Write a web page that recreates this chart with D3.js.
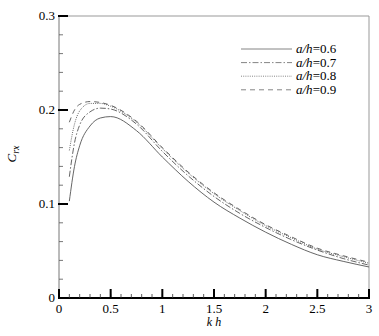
<!DOCTYPE html>
<html lang="en">
<head>
    <title>Crx vs kh</title>
    <script src='https://d3js.org/d3.v7.min.js'></script>
    <style>
        body { margin: 0; background: #fff; }
        svg text { font-family: 'Liberation Serif'; }
    </style>
</head>
<body>
    <script>
        var width = 379, height = 336;

        // data
        var kh = [0.1, 0.15, 0.2, 0.3, 0.4, 0.5, 0.75, 1.0, 1.25, 1.5, 1.75, 2.0, 2.25, 2.5, 2.75, 3.0];
        var crx06 = [0.103, 0.140, 0.162, 0.183, 0.1915, 0.193, 0.178, 0.150, 0.124, 0.102, 0.085, 0.070, 0.057, 0.046, 0.039, 0.033];
        var crx07 = [0.129, 0.165, 0.184, 0.198, 0.202, 0.201, 0.185, 0.156, 0.130, 0.108, 0.090, 0.075, 0.062, 0.051, 0.042, 0.035];
        var crx08 = [0.157, 0.185, 0.199, 0.207, 0.207, 0.204, 0.187, 0.159, 0.133, 0.111, 0.093, 0.077, 0.064, 0.052, 0.044, 0.037];
        var crx09 = [0.187, 0.200, 0.206, 0.209, 0.208, 0.205, 0.188, 0.160, 0.134, 0.112, 0.094, 0.078, 0.065, 0.053, 0.045, 0.038];
        var labels = ['0.6', '0.7', '0.8', '0.9'];
        var dashes = ['none', '6,2,1.5,2', '1,1.2', '5,4'];
        var xTicks = [0, 0.5, 1, 1.5, 2, 2.5, 3];
        var yTicks = [0, 0.1, 0.2, 0.3];

        var series = [crx06, crx07, crx08, crx09];

        var svg = d3.select('body').append('svg')
            .attr('width', width).attr('height', height);

        var x = d3.scaleLinear().domain([0, 3]).range([59, 369]);
        var y = d3.scaleLinear().domain([0, 0.3]).range([298, 16]);

        // frame: top & right in gray
        svg.append('line').attr('x1', x(0)).attr('x2', x(3)).attr('y1', y(0.3)).attr('y2', y(0.3))
            .attr('stroke', '#999').attr('stroke-width', 1);
        svg.append('line').attr('x1', x(3)).attr('x2', x(3)).attr('y1', y(0)).attr('y2', y(0.3))
            .attr('stroke', '#999').attr('stroke-width', 1);

        // left axis
        svg.append('line').attr('x1', x(0)).attr('x2', x(0)).attr('y1', y(0)).attr('y2', y(0.3))
            .attr('stroke', '#777').attr('stroke-width', 1);
        svg.selectAll('.ymin').data(d3.range(0, 0.3001, 0.02)).join('line')
            .attr('x1', x(0)).attr('x2', x(0) + 4)
            .attr('y1', function(d) { return y(d); }).attr('y2', function(d) { return y(d); })
            .attr('stroke', '#555').attr('stroke-width', 0.8);
        svg.selectAll('.ymaj').data(yTicks).join('line')
            .attr('x1', x(0) - 1).attr('x2', x(0) + 9)
            .attr('y1', function(d) { return y(d); }).attr('y2', function(d) { return y(d); })
            .attr('stroke', '#000').attr('stroke-width', 2);
        svg.selectAll('.ylab').data(yTicks).join('text')
            .attr('x', x(0) - 4).attr('y', function(d) { return y(d) + 4; })
            .attr('text-anchor', 'end').attr('font-size', 13)
            .text(function(d) { return d === 0 ? '0' : d3.format('.1f')(d); });

        // bottom axis
        svg.append('line').attr('x1', x(0) - 1).attr('x2', x(3) + 1).attr('y1', y(0)).attr('y2', y(0))
            .attr('stroke', '#000').attr('stroke-width', 2);
        svg.selectAll('.xmin').data(d3.range(0, 3.001, 0.1)).join('line')
            .attr('x1', function(d) { return x(d); }).attr('x2', function(d) { return x(d); })
            .attr('y1', y(0)).attr('y2', y(0) - 4)
            .attr('stroke', '#333').attr('stroke-width', 0.8);
        svg.selectAll('.xmaj').data(xTicks).join('line')
            .attr('x1', function(d) { return x(d); }).attr('x2', function(d) { return x(d); })
            .attr('y1', y(0)).attr('y2', y(0) - 9)
            .attr('stroke', '#000').attr('stroke-width', 2);
        svg.selectAll('.xlab').data(xTicks).join('text')
            .attr('x', function(d) { return x(d); }).attr('y', 313)
            .attr('text-anchor', 'middle').attr('font-size', 13)
            .text(function(d) { return d; });

        // axis titles
        svg.append('text').attr('x', x(1.5)).attr('y', 326)
            .attr('text-anchor', 'middle').attr('font-size', 12).attr('font-style', 'italic')
            .text('k h');
        var yt = svg.append('text').attr('transform', 'translate(16,154) rotate(-90)')
            .attr('text-anchor', 'middle').attr('font-size', 13).attr('font-style', 'italic');
        yt.append('tspan').text('C');
        yt.append('tspan').attr('font-size', 10).attr('dy', 3).text('rx');

        // curves
        var line = d3.line()
            .x(function(d) { return x(d[0]); })
            .y(function(d) { return y(d[1]); })
            .curve(d3.curveMonotoneX);

        series.forEach(function(s, i) {
            svg.append('path')
                .attr('d', line(kh.map(function(k, j) { return [k, s[j]]; })))
                .attr('fill', 'none')
                .attr('stroke', '#555')
                .attr('stroke-width', 0.9)
                .attr('stroke-dasharray', dashes[i]);
        });

        // legend
        labels.forEach(function(l, i) {
            var ly = 49 + i * 13.6;
            svg.append('line').attr('x1', 241).attr('x2', 292).attr('y1', ly).attr('y2', ly)
                .attr('stroke', '#777').attr('stroke-width', 0.9)
                .attr('stroke-dasharray', dashes[i]);
            var t = svg.append('text').attr('x', 296).attr('y', ly + 4).attr('font-size', 13);
            t.append('tspan').attr('font-style', 'italic').text('a/h');
            t.append('tspan').text('=' + l);
        });
    </script>
</body>
</html>
